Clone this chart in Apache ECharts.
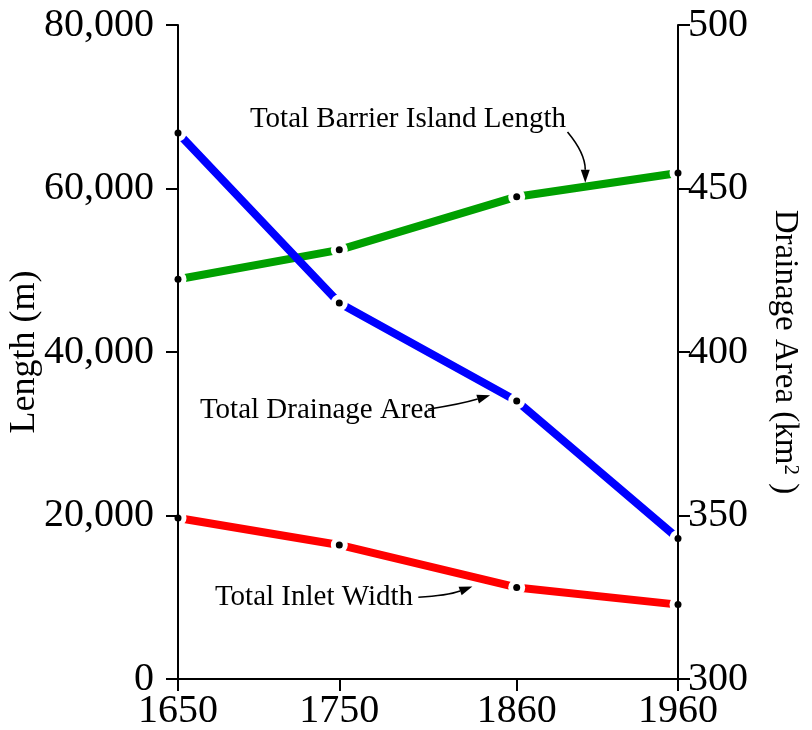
<!DOCTYPE html>
<html>
<head>
<meta charset="utf-8">
<script src="https://cdn.jsdelivr.net/npm/echarts@6/dist/echarts.min.js"></script>
<style>html,body{margin:0;padding:0;background:#fff;}#c{width:812px;height:730px;}</style>
</head>
<body>
<div id="c"></div>
<script>
const years = [1650, 1750, 1860, 1960];
const barrierLength = [48900, 52500, 59000, 61900];
const inletWidth = [19700, 16400, 11200, 9100];
const drainageArea = [467, 415, 385, 343];
const leftTicks = [0, 20000, 40000, 60000, 80000];
const rightTicks = [300, 350, 400, 450, 500];
const yearTicks = [1650, 1750, 1860, 1960];

const FONT = 'Liberation Serif';
const pairs = (xs, ys) => xs.map((x, i) => [x, ys[i]]);

const chart = echarts.init(document.getElementById('c'), null, {renderer: 'canvas'});

function lineSeries(name, vals, color, yIdx) {
  return {
    name, type: 'line', yAxisIndex: yIdx, data: pairs(years, vals), z: 2,
    lineStyle: {color, width: 8, cap: 'butt'},
    symbol: 'circle', symbolSize: 17, showSymbol: true,
    itemStyle: {color: '#fff', borderWidth: 0, opacity: 1},
    emphasis: {disabled: true}, animation: false
  };
}
function dotSeries(vals, yIdx) {
  return {
    type: 'scatter', yAxisIndex: yIdx, data: pairs(years, vals), z: 5,
    symbol: 'circle', symbolSize: 7, itemStyle: {color: '#000', opacity: 1},
    emphasis: {disabled: true}, animation: false
  };
}

const axisLine = {show: true, lineStyle: {color: '#000', width: 2}};
const axisTick = {show: true, length: 12, lineStyle: {color: '#000', width: 2}};
const labelBase = {color: '#000', fontFamily: FONT, fontSize: 40};

chart.setOption({
  animation: false,
  grid: {left: 178, right: 134, top: 25, bottom: 51, containLabel: false, outerBoundsMode: 'none'},
  xAxis: {
    type: 'value', min: 1650, max: 1960, z: 3,
    axisLine,
    axisTick: Object.assign({}, axisTick, {customValues: yearTicks}),
    axisLabel: Object.assign({}, labelBase, {customValues: yearTicks, margin: 12, formatter: v => String(v)}),
    splitLine: {show: false}
  },
  yAxis: [
    {
      type: 'value', min: 0, max: 80000, interval: 20000, position: 'left', z: 3,
      name: 'Length (m)', nameLocation: 'middle', nameGap: 135, nameRotate: 90, nameMoveOverlap: false,
      nameTextStyle: {fontFamily: FONT, fontSize: 36, color: '#000'},
      axisLine, axisTick, splitLine: {show: false},
      axisLabel: Object.assign({}, labelBase, {margin: 24,
        customValues: leftTicks,
        formatter: v => v.toLocaleString('en-US')})
    },
    {
      type: 'value', min: 300, max: 500, interval: 50, position: 'right', z: 3,
      name: 'Drainage Area (km{sup|2} )', nameLocation: 'middle', nameGap: 90, nameRotate: -90,
      nameTextStyle: {fontFamily: FONT, fontSize: 33, color: '#000',
        rich: {sup: {fontFamily: FONT, fontSize: 21, verticalAlign: 'top', padding: [0, 0, 12, 0], color: '#000'}}},
      axisLine, axisTick, splitLine: {show: false},
      axisLabel: Object.assign({}, labelBase, {margin: 10, customValues: rightTicks})
    }
  ],
  series: [
    lineSeries('Total Barrier Island Length', barrierLength, '#00a000', 0),
    lineSeries('Total Drainage Area', drainageArea, '#0000ff', 1),
    lineSeries('Total Inlet Width', inletWidth, '#ff0000', 0),
    dotSeries(barrierLength, 0),
    dotSeries(drainageArea, 1),
    dotSeries(inletWidth, 0)
  ]
});

// Annotations, anchored in data coordinates (left axis units)
const px = (x, y) => chart.convertToPixel({xAxisIndex: 0, yAxisIndex: 0}, [x, y]);

function arrow(p0, c, p1) {
  const ang = Math.atan2(p1[1] - c[1], p1[0] - c[0]);
  const L = 13, W = 4.5;
  const bx = p1[0] - L * Math.cos(ang), by = p1[1] - L * Math.sin(ang);
  const nx = -Math.sin(ang) * W, ny = Math.cos(ang) * W;
  return [
    {type: 'bezierCurve', shape: {x1: p0[0], y1: p0[1], cpx1: c[0], cpy1: c[1], x2: bx, y2: by},
     style: {stroke: '#000', lineWidth: 1.6, fill: null}, z: 10},
    {type: 'polygon', shape: {points: [[p1[0], p1[1]], [bx + nx, by + ny], [bx - nx, by - ny]]},
     style: {fill: '#000'}, z: 10}
  ];
}
function label(text, p) {
  return {type: 'text', x: p[0], y: p[1], z: 10,
    style: {text, fontFamily: FONT, fontSize: 29, fill: '#000', verticalAlign: 'middle', align: 'left'}};
}

const annotations = [
  {text: 'Total Barrier Island Length', at: [1694.6, 68400],
   arrow: [[1891.5, 66900], [1902.5, 64300], [1902.5, 60700]]},
  {text: 'Total Drainage Area', at: [1663.6, 32900],
   arrow: [[1805, 33000], [1825, 33600], [1843.5, 34700]]},
  {text: 'Total Inlet Width', at: [1672.9, 10000],
   arrow: [[1799, 10000], [1817, 10200], [1832.5, 11300]]}
];

const elements = [];
annotations.forEach(a => {
  elements.push(label(a.text, px(a.at[0], a.at[1])));
  elements.push(...arrow(px(...a.arrow[0]), px(...a.arrow[1]), px(...a.arrow[2])));
});
chart.setOption({graphic: {elements}});
</script>
</body>
</html>
